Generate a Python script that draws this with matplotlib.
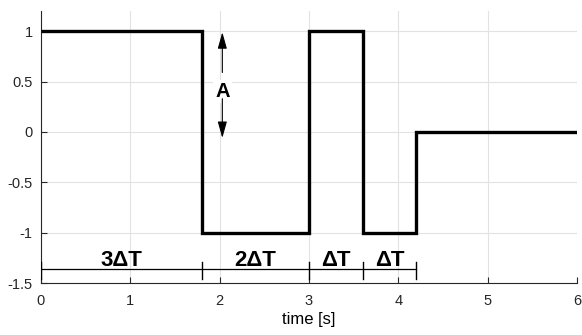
import numpy as np
import matplotlib.pyplot as plt

plt.rcParams['font.family'] = ['Liberation Sans', 'DejaVu Sans']

# signal: piecewise constant levels between edges
edges = [0, 1.8, 3, 3.6, 4.2, 6]
levels = [1, -1, 1, -1, 0]

# dimension marks under the signal
dim_edges = [0, 1.8, 3, 3.6, 4.2]
dim_labels = ['3\u0394T', '2\u0394T', '\u0394T', '\u0394T']
dim_y = -1.365

arrow_x = 2.03

fig = plt.figure(figsize=(5.82, 3.35), dpi=100)
ax = fig.add_axes([0.0704, 0.155, 0.921, 0.812])

ax.stairs(levels, edges, baseline=None, color='black', linewidth=2.4, zorder=3)

# dimension line with end ticks
ax.plot([dim_edges[0], dim_edges[-1]], [dim_y, dim_y], color='black', lw=0.9, zorder=3)
for x in dim_edges:
    ax.plot([x, x], [dim_y - 0.09, dim_y + 0.075], color='black', lw=1, zorder=3)
for i, lab in enumerate(dim_labels):
    xc = (dim_edges[i] + dim_edges[i + 1]) / 2
    ax.text(xc, dim_y + 0.03, lab, ha='center', va='baseline', fontsize=16,
            fontweight='bold', zorder=4)

# amplitude arrows
head = '-|>,head_length=1.0,head_width=0.28'
ax.annotate('', xy=(arrow_x, 0.99), xytext=(arrow_x, 0.59),
            arrowprops=dict(arrowstyle=head, color='black', lw=0.8,
                            shrinkA=0, shrinkB=0), zorder=4)
ax.text(arrow_x, 0.40, 'A', ha='center', va='center', fontsize=14.5, fontweight='bold',
        bbox=dict(facecolor='white', edgecolor='none', pad=1.5), zorder=4)
ax.annotate('', xy=(arrow_x, -0.06), xytext=(arrow_x, 0.33),
            arrowprops=dict(arrowstyle=head, color='black', lw=0.8,
                            shrinkA=0, shrinkB=0), zorder=5)

ax.set_xlim(0, 6)
ax.set_ylim(-1.5, 1.2)
ax.set_xticks(range(0, 7))
ax.set_yticks([-1.5, -1, -0.5, 0, 0.5, 1])
ax.set_yticklabels(['-1.5', '-1', '-0.5', '0', '0.5', '1'])
ax.set_xlabel('time [s]', fontsize=12, labelpad=3)

ax.grid(True, color='#e2e2e2', linewidth=0.8, zorder=0)
ax.set_axisbelow(True)
for s in ['top', 'right']:
    ax.spines[s].set_visible(False)
for s in ['left', 'bottom']:
    ax.spines[s].set_color('#262626')
    ax.spines[s].set_linewidth(0.8)
ax.tick_params(direction='in', length=4, width=0.8, colors='#262626', labelsize=10.5,
               labelcolor='#262626')
ax.tick_params(axis='x', pad=8)
ax.tick_params(axis='y', pad=6)

fig.savefig('out.png', dpi=100)
